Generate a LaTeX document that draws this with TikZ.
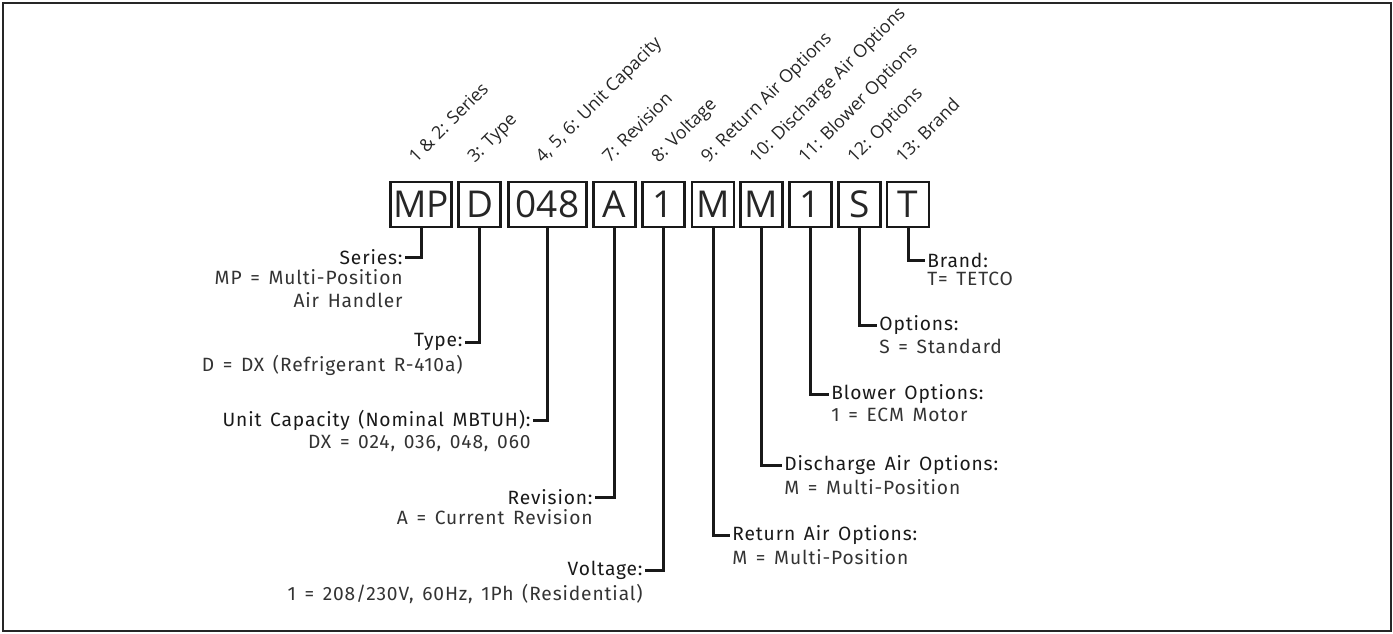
\documentclass[tikz,border=0pt]{standalone}
\usepackage{fontspec}
\setmainfont{Fira Sans}[LetterSpace=4.5]
\newfontfamily\codefont{Open Sans}
\newcommand\widespace{\spaceskip=.45em\relax}
\usetikzlibrary{positioning}
\begin{document}
\begin{tikzpicture}[x=.5pt,y=-.5pt,
  codebox/.style={draw=black!90,line width=1.2pt,inner sep=0pt,minimum height=22.5pt,minimum width=21pt,font=\codefont\fontsize{18.5}{19}\selectfont,text=black!85},
  tag/.style={rotate=45,anchor=base west,inner sep=0pt,font=\codefont\fontsize{8.9}{10}\selectfont,text=black!85},
  head/.style={inner xsep=1pt,inner ysep=0pt,font=\fontsize{9.6}{11.5}\selectfont\widespace,text=black!90},
  desc/.style={inner sep=0pt,font=\fontsize{9.6}{11.5}\selectfont\widespace,text=black!80},
  leg/.style={line width=1.5pt,draw=black!90}]
\path[use as bounding box] (0,0) rectangle (1393,633);
\draw[black!85,line width=.75pt] (3,3) rectangle (1391,631);

% code boxes
\node[codebox,minimum width=30.5pt] (MP) at (421,204.5) {MP};
\node[codebox] (D) at (479.5,204.5) {D};
\node[codebox,minimum width=39pt] (cap) at (547.5,204.5) {048};
\node[codebox] (rev) at (614.5,204.5) {A};
\node[codebox] (volt) at (663.5,204.5) {1};
\node[codebox] (ret) at (713,204.5) {M};
\node[codebox] (dis) at (761.5,204.5) {M};
\node[codebox] (blow) at (810.5,204.5) {1};
\node[codebox] (opt) at (859.5,204.5) {S};
\node[codebox] (brand) at (908,204.5) {T};

% position tags
\node[tag] (tMP) at ([xshift=-2.5pt,yshift=8.5pt]MP.north) {1 \& 2: Series};
\node[tag] (tD) at ([xshift=-2.5pt,yshift=8.5pt]D.north) {3: Type};
\node[tag] (tcap) at ([xshift=-2.5pt,yshift=8.5pt]cap.north) {4, 5, 6: Unit Capacity};
\node[tag] (trev) at ([xshift=-2.5pt,yshift=8.5pt]rev.north) {7: Revision};
\node[tag] (tvolt) at ([xshift=-2.5pt,yshift=8.5pt]volt.north) {8: Voltage};
\node[tag] (tret) at ([xshift=-2.5pt,yshift=8.5pt]ret.north) {9: Return Air Options};
\node[tag] (tdis) at ([xshift=-2.5pt,yshift=8.5pt]dis.north) {10: Discharge Air Options};
\node[tag] (tblow) at ([xshift=-2.5pt,yshift=8.5pt]blow.north) {11: Blower Options};
\node[tag] (topt) at ([xshift=-2.5pt,yshift=8.5pt]opt.north) {12: Options};
\node[tag] (tbrand) at ([xshift=-2.5pt,yshift=8.5pt]brand.north) {13: Brand};

% left side
\node[head,anchor=east] (hMP) at (405,257) {Series:};
\node[desc,anchor=north east,align=right] (dMP) at ([xshift=-1pt,yshift=-2pt]hMP.south east) {MP = Multi-Position\\Air Handler};
\node[head,anchor=east] (hD) at (465,342) {Type:};
\node[desc,anchor=north east,align=right] (dD) at ([xshift=-1pt,yshift=-2pt]hD.south east) {D = DX (Refrigerant R-410a)};
\node[head,anchor=east] (hcap) at (533,420) {Unit Capacity (Nominal MBTUH):};
\node[desc,anchor=north east,align=right] (dcap) at ([xshift=-1pt,yshift=-2pt]hcap.south east) {DX = 024, 036, 048, 060};
\node[head,anchor=east] (hrev) at (595,497) {Revision:};
\node[desc,anchor=north east,align=right] (drev) at ([xshift=-1pt,yshift=-2pt]hrev.south east) {A = Current Revision};
\node[head,anchor=east] (hvolt) at (645,570) {Voltage:};
\node[desc,anchor=north east,align=right] (dvolt) at ([xshift=-1pt,yshift=-2pt]hvolt.south east) {1 = 208/230V, 60Hz, 1Ph (Residential)};

% right side
\node[head,anchor=west] (hbrand) at (925,260) {Brand:};
\node[desc,anchor=north west,align=left] (dbrand) at ([xshift=1pt,yshift=-2pt]hbrand.south west) {T= TETCO};
\node[head,anchor=west] (hopt) at (877,325) {Options:};
\node[desc,anchor=north west,align=left] (dopt) at ([xshift=1pt,yshift=-2pt]hopt.south west) {S = Standard};
\node[head,anchor=west] (hblow) at (829,394) {Blower Options:};
\node[desc,anchor=north west,align=left] (dblow) at ([xshift=1pt,yshift=-2pt]hblow.south west) {1 = ECM Motor};
\node[head,anchor=west] (hdis) at (782,465) {Discharge Air Options:};
\node[desc,anchor=north west,align=left] (ddis) at ([xshift=1pt,yshift=-2pt]hdis.south west) {M = Multi-Position};
\node[head,anchor=west] (hret) at (730,535) {Return Air Options:};
\node[desc,anchor=north west,align=left] (dret) at ([xshift=1pt,yshift=-2pt]hret.south west) {M = Multi-Position};

% legs
\draw[leg] (MP.south) |- (hMP.east);
\draw[leg] (D.south) |- (hD.east);
\draw[leg] (cap.south) |- (hcap.east);
\draw[leg] (rev.south) |- (hrev.east);
\draw[leg] (volt.south) |- (hvolt.east);
\draw[leg] (ret.south) |- (hret.west);
\draw[leg] (dis.south) |- (hdis.west);
\draw[leg] (blow.south) |- (hblow.west);
\draw[leg] (opt.south) |- (hopt.west);
\draw[leg] (brand.south) |- (hbrand.west);
\end{tikzpicture}
\end{document}
